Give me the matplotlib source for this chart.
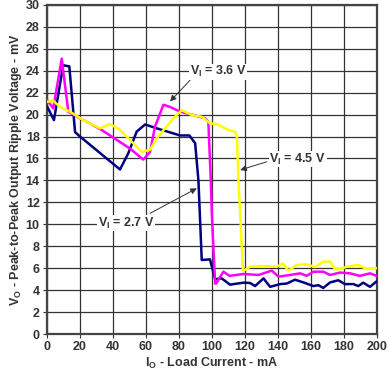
import matplotlib
matplotlib.use("Agg")
import matplotlib.pyplot as plt

plt.rcParams['font.family'] = ['Liberation Sans', 'DejaVu Sans']
plt.rcParams['font.weight'] = 'bold'
plt.rcParams['mathtext.fontset'] = 'custom'
plt.rcParams['mathtext.rm'] = 'Liberation Sans:bold'
plt.rcParams['mathtext.bf'] = 'Liberation Sans:bold'
plt.rcParams['mathtext.it'] = 'Liberation Sans:bold'

# V_I = 2.7 V
x27 = [0.4, 4.4, 10, 13.7, 17.2, 20.2, 44.4, 49.5, 54.5, 59.6, 66.6, 80.8, 86.4, 89.9, 91.9,
       93.9, 98.9, 102, 106, 111, 119.2, 123.2, 126.2, 131.3, 135.3, 141.4, 145.4, 150.4, 155.5,
       161.5, 164.5, 167.5, 171.6, 176.6, 180.6, 185.7, 188.7, 191.7, 195.8, 199.8]
y27 = [20.7, 19.5, 24.5, 24.4, 18.4, 18.0, 15.0, 16.5, 18.45, 19.1, 18.75, 18.1, 18.1, 17.4, 14.0,
       6.75, 6.8, 5.0, 5.07, 4.5, 4.68, 4.65, 4.37, 5.07, 4.3, 4.55, 4.6, 4.95, 4.7,
       4.37, 4.45, 4.2, 4.7, 4.9, 4.55, 4.55, 4.37, 4.68, 4.3, 4.8]

# V_I = 3.6 V
x36 = [0.4, 4, 9.1, 13.1, 20.2, 26.2, 33.3, 42.4, 50.5, 58.5, 62.6, 65.6, 70.7, 74.7, 80.8,
       88.8, 95.9, 97.9, 99.4, 100, 102, 102.6, 107, 110.7, 119.2, 128.3, 136.3, 140.4, 147.4,
       153.5, 157.5, 161.5, 167.5, 171.6, 177.6, 183.7, 189.7, 195.8, 199.8]
y36 = [21.3, 20.57, 25.1, 20.27, 19.66, 19.2, 18.6, 17.7, 16.9, 15.9, 16.6, 18.9, 20.9, 20.7, 20.27,
       19.96, 19.66, 19.35, 14.0, 11.0, 4.6, 4.6, 5.68, 5.3, 5.47, 5.38, 5.78, 5.23, 5.38,
       5.53, 5.3, 5.68, 5.68, 5.38, 5.6, 5.53, 5.3, 5.53, 5.3]

# V_I = 4.5 V
x45 = [0.4, 4, 8, 14.1, 22.2, 32.3, 38.4, 44.4, 52.5, 57.6, 62.6, 66.6, 71.7, 76.7, 81.8,
       87.9, 93.9, 99, 103, 110, 114, 115.2, 116.1, 117.2, 118.8, 120.2, 123.2, 129.3, 139.4,
       143, 146.4, 151.5, 157.5, 162.5, 167.5, 171.6, 174.6, 177.6, 181.6, 188.7, 193.8, 199.8]
y45 = [21.17, 21.26, 20.7, 20.27, 19.5, 18.75, 19.14, 18.6, 17.38, 16.6, 16.8, 17.84, 18.75, 19.66, 20.4,
       19.96, 19.8, 19.2, 19.14, 18.6, 18.45, 18.0, 14.0, 11.0, 5.83, 5.85, 6.13, 6.2, 6.13,
       6.44, 5.78, 6.3, 6.35, 6.1, 6.6, 6.6, 5.9, 5.9, 6.13, 6.3, 5.9, 6.0]

xticks = list(range(0, 201, 20))
yticks = list(range(0, 31, 2))

fig = plt.figure(figsize=(3.89, 3.78), dpi=100)
ax = fig.add_axes([0.12, 0.1164, 0.849, 0.8706])

ax.plot(x27, y27, color='#000080', lw=1.8, zorder=3)
ax.plot(x36, y36, color='#ff00ff', lw=1.8, zorder=3)
ax.plot(x45, y45, color='#ffff00', lw=1.8, zorder=3)

ax.set_xlim(0, 200)
ax.set_ylim(0, 30)
ax.set_xticks(xticks)
ax.set_yticks(yticks)
ax.tick_params(labelsize=9, colors='#333333', direction='out', length=3, width=0.8, pad=2)
for lab in ax.get_xticklabels() + ax.get_yticklabels():
    lab.set_fontweight('bold')
ax.grid(True, color='#333333', lw=0.9, zorder=1)
ax.set_axisbelow(True)
for s in ax.spines.values():
    s.set_color('#444444')
    s.set_linewidth(1.6)

ax.set_xlabel(r'$\mathbf{I_O}$ - Load Current - mA', fontsize=9, color='#333333',
              fontweight='bold', labelpad=2)
ax.set_ylabel(r'$\mathbf{V_O}$ - Peak-to-Peak Output Ripple Voltage - mV', fontsize=9,
              color='#333333', fontweight='bold', labelpad=1)

def note(txt, xt, yt, xs, ys, xa, ya):
    ax.annotate('', xy=(xa, ya), xytext=(xs, ys),
                arrowprops=dict(arrowstyle='-|>', color='#333333', lw=0.7,
                                mutation_scale=9, shrinkA=0, shrinkB=0), zorder=5)
    ax.text(xt, yt, txt, ha='center', va='center', fontsize=9, color='#333333',
            fontweight='bold', zorder=6,
            bbox=dict(boxstyle='square,pad=0.05', fc='white', ec='none'))

note(r'$\mathbf{V_I}$ = 3.6 V', 103.8, 23.9, 86.9, 23.15, 74.7, 21.2)
note(r'$\mathbf{V_I}$ = 4.5 V', 152, 15.95, 133.3, 15.7, 117.2, 14.95)
note(r'$\mathbf{V_I}$ = 2.7 V', 48, 10.1, 62.6, 11.0, 90.9, 13.28)

fig.savefig('out.png', dpi=100)
